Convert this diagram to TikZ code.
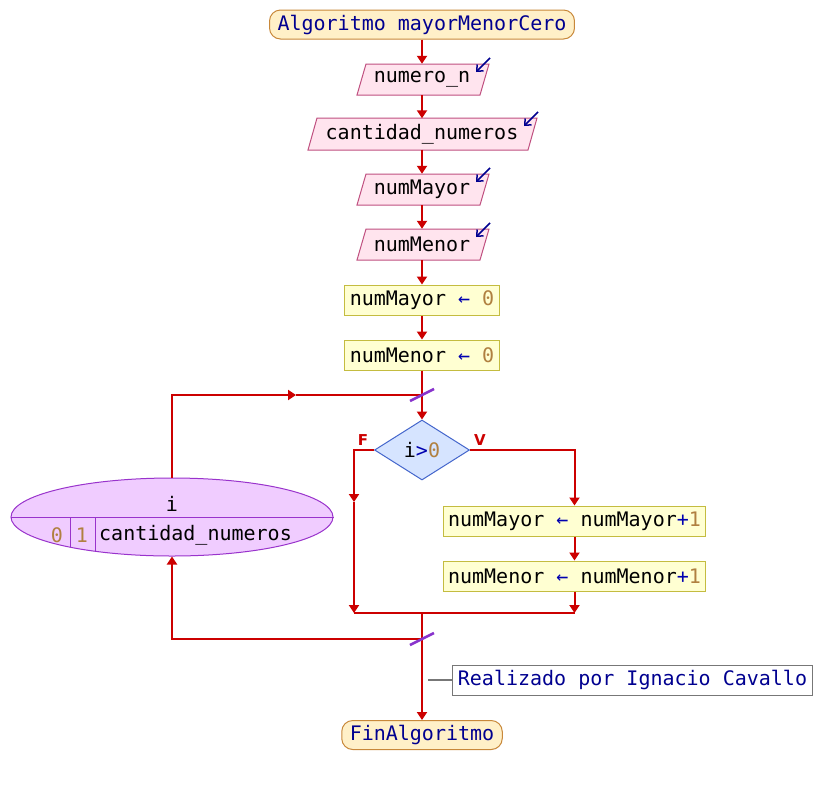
\documentclass[tikz,border=0pt]{standalone}
\usepackage{fontspec}
\setmonofont{DejaVu Sans Mono}
\setsansfont{DejaVu Sans}
\usetikzlibrary{arrows.meta,shapes.geometric}
\definecolor{flowred}{HTML}{CC0000}
\definecolor{termfill}{HTML}{FFF0C8}
\definecolor{termdraw}{HTML}{C8883A}
\definecolor{inpfill}{HTML}{FFE4EE}
\definecolor{inpdraw}{HTML}{C05080}
\definecolor{procfill}{HTML}{FFFFD2}
\definecolor{procdraw}{HTML}{C4BC40}
\definecolor{decfill}{HTML}{D6E4FF}
\definecolor{decdraw}{HTML}{4466CC}
\definecolor{ellfill}{HTML}{F0CCFF}
\definecolor{elldraw}{HTML}{9933CC}
\definecolor{slashc}{HTML}{8833CC}
\definecolor{navy}{HTML}{000090}
\definecolor{opblue}{HTML}{0000B0}
\definecolor{numbrown}{HTML}{B08040}
\definecolor{grayline}{HTML}{777777}
\newcommand\opc[1]{\textcolor{opblue}{#1}}
\newcommand\numc[1]{\textcolor{numbrown}{#1}}
\newcommand\inpshape[4]{%
  \draw[inpst] (#1+9,#3) -- (#2,#3) -- (#2-9,#4) -- (#1,#4) -- cycle;
  \draw[iconst] (#2+1,#3-6) -- (#2-13,#3+8);}
\begin{document}
\begin{tikzpicture}[x=1pt,y=-1pt,
  font=\ttfamily\fontsize{20}{24}\selectfont,
  flow/.style={draw=flowred, line width=2pt},
  arr/.style={flow, -{Triangle[length=8pt,width=10pt]}},
  term/.style={draw=termdraw, fill=termfill, rounded corners=11pt, minimum height=29pt, inner xsep=8pt, inner ysep=0pt, text=navy, line width=1pt},
  proc/.style={draw=procdraw, fill=procfill, minimum height=30pt, inner xsep=5pt, inner ysep=0pt, line width=1pt},
  intext/.style={minimum height=31pt, inner sep=0pt},
  inpst/.style={draw=inpdraw, fill=inpfill, line width=1pt},
  iconst/.style={draw=navy, line width=1.5pt, -{Straight Barb[length=5pt,width=9pt]}},
  dec/.style={diamond, draw=decdraw, fill=decfill, minimum width=95pt, minimum height=60pt, inner sep=0pt, line width=1pt},
  loopell/.style={ellipse, draw=elldraw, fill=ellfill, minimum width=322pt, minimum height=78pt, inner sep=0pt, line width=1pt},
  sep/.style={draw=elldraw, line width=1pt},
  slash/.style={draw=slashc, line width=2.5pt},
  lbl/.style={text=flowred, font=\sffamily\bfseries\fontsize{15}{17}\selectfont},
  comm/.style={draw=grayline, fill=white, text=navy, minimum height=30pt, inner xsep=5pt, inner ysep=0pt, line width=1pt}]
\useasboundingbox (0,0) rectangle (822,785);
\fill[white] (0,0) rectangle (822,785);

% terminal start
\node[term] (start) at (422,24.5) {Algoritmo mayorMenorCero};

% inputs
\inpshape{357}{489}{64}{95}
\node[intext] (n1) at (422,79.5) {numero\_n};
\inpshape{308}{537}{118}{150}
\node[intext] (n2) at (422,134) {cantidad\_numeros};
\inpshape{357}{489}{174}{205}
\node[intext] (n3) at (422,189.5) {numMayor};
\inpshape{357}{489}{229}{260}
\node[intext] (n4) at (422,244.5) {numMenor};

% assignments
\node[proc] (p1) at (422,300) {numMayor \opc{←} \numc{0}};
\node[proc] (p2) at (422,355) {numMenor \opc{←} \numc{0}};

% loop
\coordinate (j1) at (422,395);
\node[dec] (d) at (422,450) {i\opc{>}\numc{0}};
\node[lbl] at (363,440) {F};
\node[lbl] at (480,440) {V};

\node[proc] (p3) at (574.5,521) {numMayor \opc{←} numMayor\opc{+}\numc{1}};
\node[proc] (p4) at (574.5,576) {numMenor \opc{←} numMenor\opc{+}\numc{1}};

\coordinate (fl) at (354,450);
\coordinate (fm) at (354,502);
\coordinate (fb) at (354,613);
\coordinate (j2) at (422,613);
\coordinate (j3) at (422,639);
\coordinate (lr) at (172,639);
\coordinate (lt) at (172,395);
\coordinate (lm) at (296,395);

% for ellipse
\node[loopell] (e) at (172,517) {};
\draw[sep] (e.west) -- (e.east);
\draw[sep] (70.5,517) -- (70.5,547);
\draw[sep] (95,517) -- (95,551);
\node (ev) at (172,504) {i};
\node (e0) at (57,535) {\numc{0}};
\node (e1) at (82,535) {\numc{1}};
\node (e2) at (195.5,535) {cantidad\_numeros};

% end
\node[term] (fin) at (422,735) {FinAlgoritmo};

% comment
\node[comm] (c) at (632.5,680) {Realizado por Ignacio Cavallo};
\coordinate (cl) at (428,680);
\draw[draw=grayline, line width=1.5pt] (c.west) -- (cl);

% connectors
\draw[arr] (start.south) -- (n1.north);
\draw[arr] (n1.south) -- (n2.north);
\draw[arr] (n2.south) -- (n3.north);
\draw[arr] (n3.south) -- (n4.north);
\draw[arr] (n4.south) -- (p1.north);
\draw[arr] (p1.south) -- (p2.north);
\draw[flow] (p2.south) -- (j1);
\draw[arr] (j1) -- (d.north);
\draw[arr] (e.north) -- (lt) -- (lm);
\draw[flow] (lm) -- (j1);
\draw[arr] (d.west) -- (fl) -- (fm);
\draw[arr] (fm) -- (fb);
\draw[arr] (d.east) -| (p3.north);
\draw[arr] (p3.south) -- (p4.north);
\draw[arr] (p4.south) -- (p4.south |- fb);
\draw[flow] (fb) -- (p4.south |- fb);
\draw[flow] (j2) -- (j3);
\draw[arr] (j3) -- (fin.north);
\draw[arr] (j3) -- (lr) -- (e.south);

% slashes
\draw[slash, shift={(j1)}] (-12,6) -- (12,-6);
\draw[slash, shift={(j3)}] (-12,6) -- (12,-6);
\end{tikzpicture}
\end{document}
